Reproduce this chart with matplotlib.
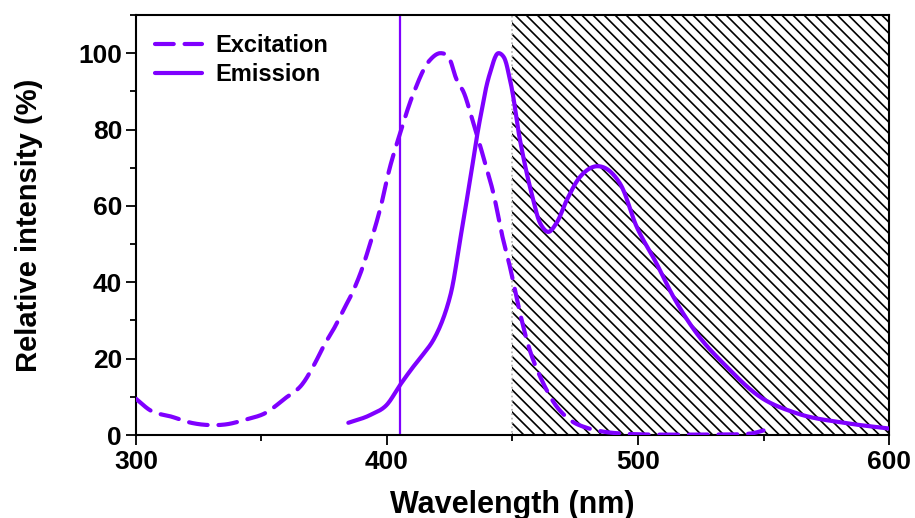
import numpy as np
import matplotlib
matplotlib.use("Agg")
import matplotlib.pyplot as plt
from matplotlib.patches import Rectangle
from matplotlib.ticker import MultipleLocator

plt.rcParams['font.family'] = ['Liberation Sans', 'DejaVu Sans']
plt.rcParams['font.weight'] = 'bold'
plt.rcParams['hatch.linewidth'] = 1.2

# Excitation spectrum (dashed)
exc_x = [300, 305.6, 314.7, 320.7, 329.5, 336, 344, 351.4, 359.4, 366, 371.3, 374.6,
         379.3, 382.6, 386, 389.5, 393, 397.2, 401.2, 405.2, 410.5, 417.1, 421.1, 424.5,
         427.8, 430.4, 433.7, 438.4, 442.4, 445.7, 449, 453, 457, 462.3, 467, 473,
         480, 486, 493, 499.5, 510, 520, 530, 540, 546, 550]
exc_y = [9.5, 6.5, 4.7, 3.4, 2.6, 2.8, 4.1, 5.7, 9.6, 13.1, 18.8, 23.1,
         28.4, 32.7, 37, 42.5, 49.5, 59, 70.2, 79, 89.4, 98.2, 100, 99,
         93, 90, 83.3, 72.8, 63.3, 52.8, 44, 31.9, 22, 13.5, 8, 3.9,
         1.8, 0.9, 0.4, 0.2, 0.1, 0.1, 0.1, 0.2, 0.5, 1.2]

# Emission spectrum (solid)
em_x = [384.6, 393.2, 399.9, 405.2, 410.5, 414, 418.4, 421.5, 425.1, 429.1, 433.1,
        437, 441, 444.3, 446.5, 449, 453, 456.3, 458.3, 461, 464.3, 467.5, 471.6,
        476.9, 483.5, 488, 492.8, 499.5, 507.4, 514.1, 523.4, 535.3, 548.6, 563.2,
        583.1, 600]
em_y = [3.2, 5.2, 7.9, 13.1, 17.9, 20.8, 24.8, 29, 36.2, 51, 66.8,
        82.5, 94.7, 100, 99, 93, 77.2, 66.8, 61.5, 55.5, 53.2, 55.5, 61.5,
        67.6, 70.4, 69.5, 65.9, 54.5, 44.9, 36.2, 26.6, 17.9, 10, 5.7,
        3.1, 1.7]

laser_nm = 405
filter_start, filter_end = 450, 600

color = '#7F00FF'
HATCH = chr(92) * 3   # three backslashes: diagonal hatch, ~11 px pitch


def _hermite(t, v, ts):
    out = np.empty_like(ts)
    m = np.gradient(v, t)
    idx = np.clip(np.searchsorted(t, ts) - 1, 0, len(t) - 2)
    for k, (i, tt) in enumerate(zip(idx, ts)):
        h = t[i + 1] - t[i]
        s = (tt - t[i]) / h
        h00 = 2*s**3 - 3*s**2 + 1
        h10 = s**3 - 2*s**2 + s
        h01 = -2*s**3 + 3*s**2
        h11 = s**3 - s**2
        out[k] = h00*v[i] + h10*h*m[i] + h01*v[i+1] + h11*h*m[i+1]
    return out


def smooth(x, y, n=800):
    x = np.asarray(x, float)
    y = np.asarray(y, float)
    t = np.concatenate([[0], np.cumsum(np.hypot(np.diff(x), np.diff(y) / 2.0))])
    ts = np.linspace(0, t[-1], n)
    return _hermite(t, x, ts), _hermite(t, y, ts)


fig = plt.figure(figsize=(9.15, 5.18), dpi=100)
ax = fig.add_axes([0.1486, 0.1602, 0.8230, 0.8108])

# Filter region (hatched)
ax.add_patch(Rectangle((filter_start, 0), filter_end - filter_start, 110,
                       facecolor='none', edgecolor='black', hatch=HATCH,
                       linewidth=0, zorder=1))
ax.add_patch(Rectangle((filter_start, 0), filter_end - filter_start, 110,
                       facecolor='none', edgecolor='#b0b0b0', linestyle=':',
                       linewidth=1.2, zorder=1.1))

ax.axvline(laser_nm, color=color, linewidth=1.6, zorder=2)

ex_sx, ex_sy = smooth(exc_x, exc_y)
em_sx, em_sy = smooth(em_x, em_y)

ax.plot(ex_sx, ex_sy, color=color, linewidth=3, linestyle=(0, (4.5, 2.6)),
        dash_capstyle='round', label='Excitation', zorder=3)
ax.plot(em_sx, em_sy, color=color, linewidth=3, solid_capstyle='round',
        label='Emission', zorder=3)

ax.set_xlim(300, 600)
ax.set_ylim(0, 110)
ax.set_xticks([300, 400, 500, 600])
ax.set_yticks([0, 20, 40, 60, 80, 100])
ax.xaxis.set_minor_locator(MultipleLocator(50))
ax.yaxis.set_minor_locator(MultipleLocator(10))
ax.tick_params(which='major', direction='out', length=7, width=1.3, labelsize=19)
ax.tick_params(axis='x', which='major', pad=4)
ax.tick_params(axis='y', which='major', pad=3)
ax.tick_params(which='minor', direction='out', length=4, width=1.3)
ax.tick_params(top=False, right=False)
for lab in ax.get_xticklabels() + ax.get_yticklabels():
    lab.set_fontweight('bold')
for sp in ax.spines.values():
    sp.set_linewidth(1.5)

ax.set_xlabel('Wavelength (nm)', fontsize=22, fontweight='bold', labelpad=11)
ax.set_ylabel('Relative intensity (%)', fontsize=21, fontweight='bold', labelpad=25)

leg = ax.legend(loc='upper left', frameon=False,
                prop={'weight': 'bold', 'size': 17}, handlelength=2.0,
                borderaxespad=0.4, borderpad=0.4, labelspacing=0.25,
                handletextpad=0.55)

fig.savefig('out.png', dpi=100)
